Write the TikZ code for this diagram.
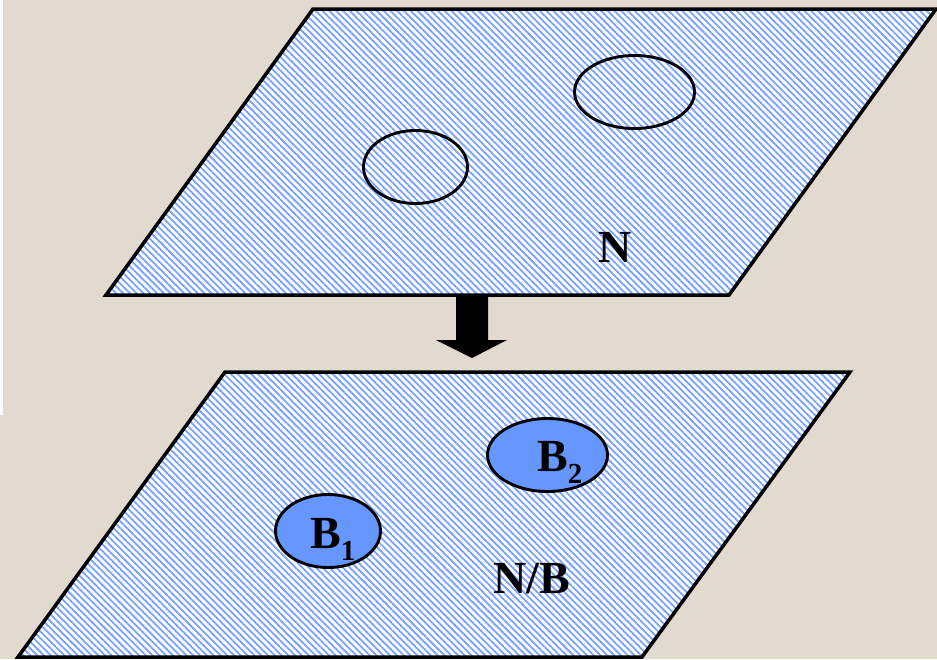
\documentclass[tikz,border=0pt]{standalone}
\usepackage{fontspec}
\setmainfont{Liberation Serif}
\usetikzlibrary{patterns.meta,shapes.geometric}
\definecolor{paper}{RGB}{226,218,206}
\definecolor{hatch}{RGB}{120,162,255}
\definecolor{disc}{RGB}{102,150,255}
\tikzset{
  plane/.style={draw=black, line width=3.5pt, line join=miter,
    preaction={fill=white},
    pattern={Lines[angle=-45,distance=4.8pt,line width=1.8pt]},
    pattern color=hatch},
  hole/.style={ellipse, draw=black, line width=2.9pt, inner sep=0pt},
  solid hole/.style={hole, fill=disc},
  label text/.style={inner sep=0pt, anchor=base west,
    font=\fontsize{46}{46}\selectfont\bfseries},
  block arrow/.style={fill=black}
}
\newcommand{\subidx}[1]{\raisebox{-12pt}{\fontsize{29}{29}\selectfont\bfseries #1}}
\begin{document}
\begin{tikzpicture}[x=1pt,y=-1pt]
  % page background
  \fill[paper] (0,0) rectangle (937,659);
  \useasboundingbox (0,0) rectangle (937,659);
  \fill[white] (0,0) rectangle (3,415);

  % upper plane N
  \coordinate (u1) at (313,9);
  \coordinate (u2) at (936,9);
  \coordinate (u3) at (729,295);
  \coordinate (u4) at (106,295);
  \path[plane] (u1) -- (u2) -- (u3) -- (u4) -- cycle;

  % lower plane N/B
  \coordinate (l1) at (225,372);
  \coordinate (l2) at (850,372);
  \coordinate (l3) at (642,657);
  \coordinate (l4) at (18,657);
  \path[plane] (l1) -- (l2) -- (l3) -- (l4) -- cycle;

  % open regions in N
  \node[hole, minimum width=120pt, minimum height=73pt] (holeR) at (634.5,92) {};
  \node[hole, minimum width=104pt, minimum height=73pt] (holeL) at (415.5,167) {};
  \node[label text] (lblN) at (598,262) {N};

  % collapsed regions in N/B
  \node[solid hole, minimum width=120pt, minimum height=73pt] (b2) at (547.5,455) {};
  \node[solid hole, minimum width=105pt, minimum height=73pt] (b1) at (328,531) {};
  \node[label text] (lblB2) at (537,471) {B\subidx{2}};
  \node[label text] (lblB1) at (310,548) {B\subidx{1}};
  \node[label text] (lblNB) at (493,593) {N/B};

  % quotient map arrow
  \coordinate (atop) at (472,295);
  \coordinate (atip) at (472,358);
  \fill[block arrow] ([xshift=-16pt]atop) -- ([xshift=16pt]atop)
    -- ([xshift=16pt,yshift=-45pt]atop) -- ([xshift=35pt,yshift=-45pt]atop)
    -- (atip) -- ([xshift=-36pt,yshift=-45pt]atop)
    -- ([xshift=-16pt,yshift=-45pt]atop) -- cycle;
\end{tikzpicture}
\end{document}
